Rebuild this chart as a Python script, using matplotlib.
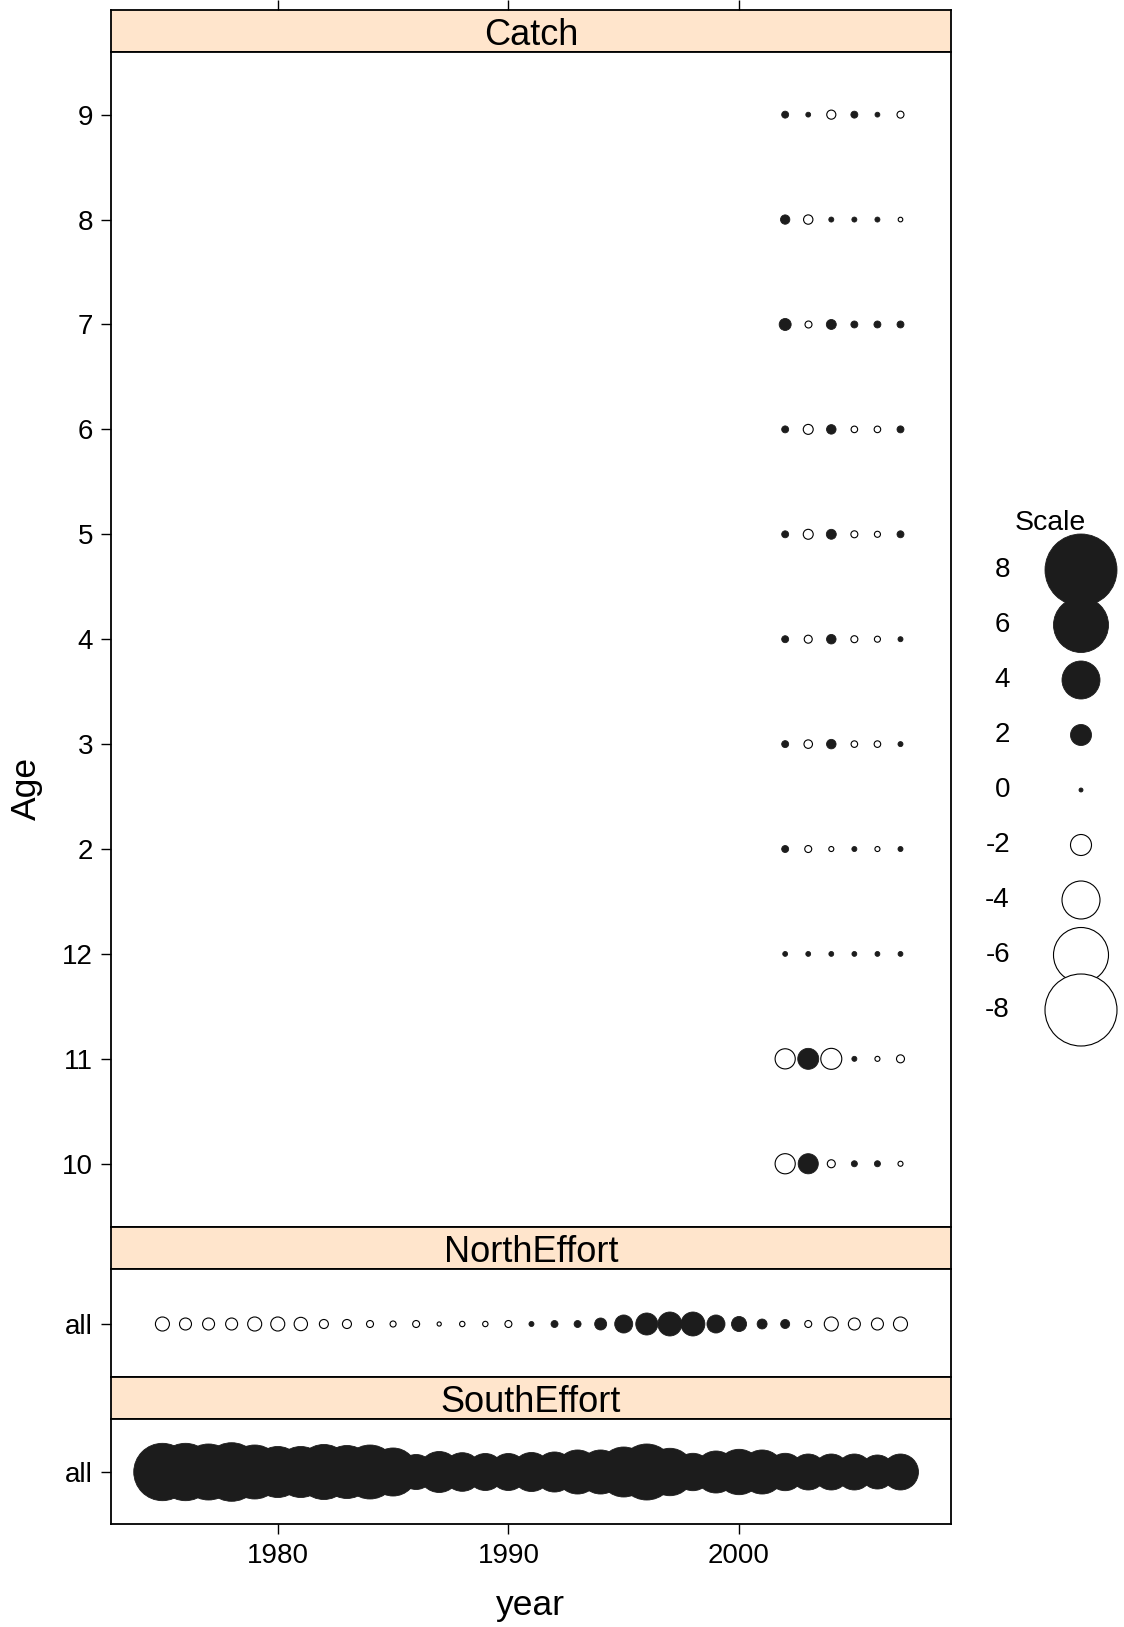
import numpy as np
import matplotlib
matplotlib.use("Agg")
import matplotlib.pyplot as plt

plt.rcParams['font.family'] = ['Liberation Sans', 'DejaVu Sans']

# DATA
catch_years = [2002, 2003, 2004, 2005, 2006, 2007]
catch_ages = ["10", "11", "12", "2", "3", "4", "5", "6", "7", "8", "9"]
age10 = [-1.9, 1.9, -0.47, 0.24, 0.24, -0.12]
age11 = [-1.9, 2.0, -2.0, 0.12, -0.12, -0.47]
age12 = [0.1, 0.1, 0.1, 0.1, 0.1, 0.1]
age2 = [0.35, -0.35, -0.12, 0.12, -0.12, 0.12]
age3 = [0.35, -0.53, 0.65, -0.3, -0.3, 0.12]
age4 = [0.35, -0.47, 0.65, -0.35, -0.24, 0.12]
age5 = [0.35, -0.7, 0.7, -0.35, -0.24, 0.35]
age6 = [0.35, -0.7, 0.65, -0.3, -0.3, 0.35]
age7 = [0.94, -0.35, 0.7, 0.35, 0.35, 0.35]
age8 = [0.63, -0.63, 0.12, 0.12, 0.12, -0.07]
age9 = [0.35, 0.1, -0.6, 0.35, 0.1, -0.35]
catch_resid = [age10, age11, age12, age2, age3, age4, age5, age6, age7, age8, age9]

effort_years = list(range(1975, 2008))
north_resid = [-1.18, -0.94, -0.94, -0.94, -1.18, -1.18, -1.1, -0.59, -0.59, -0.35,
               -0.24, -0.35, -0.02, -0.16, -0.16, -0.35, 0.12, 0.35, 0.35, 0.94,
               1.65, 2.12, 2.35, 2.35, 1.65, 1.3, 0.7, 0.59, -0.35, -1.18,
               -0.94, -0.94, -1.18]
south_resid = [6.28, 6.28, 6.12, 6.42, 5.88, 5.53, 5.53, 6.0, 5.76, 5.88,
               5.18, 3.65, 4.35, 4.07, 3.88, 3.88, 4.12, 4.24, 4.71, 4.71,
               5.41, 6.12, 5.11, 3.93, 4.47, 4.87, 4.71, 3.93, 3.76, 3.76,
               3.76, 3.53, 3.76]

scale_values = [8, 6, 4, 2, 0, -2, -4, -6, -8]

W, H, DPI = 1124, 1627, 100
fig = plt.figure(figsize=(W / DPI, H / DPI), dpi=DPI)
fill = "#1c1c1c"
strip_col = "#ffe5cc"
xlim = (1972.77, 2009.19)


def box(x0, y0, x1, y1):
    return [x0 / W, 1 - y1 / H, (x1 - x0) / W, (y1 - y0) / H]


def bubble_size(v):
    # radius in px grows linearly with |value|
    r = 2 + 4.25 * np.abs(np.asarray(v, dtype=float))
    return (2 * r * 72 / DPI) ** 2


def bubbles(ax, x, y, v):
    v = np.asarray(v, dtype=float)
    x = np.asarray(x, dtype=float)
    y = np.asarray(y, dtype=float)
    pos = v >= 0
    ax.scatter(x[pos], y[pos], s=bubble_size(v[pos]), c=fill, edgecolors=fill,
               linewidths=0.6, zorder=3)
    ax.scatter(x[~pos], y[~pos], s=bubble_size(v[~pos]), c="white", edgecolors="black",
               linewidths=0.8, zorder=3)


def strip(y0, y1, label, top_ticks=False):
    s = fig.add_axes(box(111, y0, 951, y1))
    s.set_facecolor(strip_col)
    s.set_xlim(*xlim)
    s.set_ylim(0, 1)
    s.set_yticks([])
    if top_ticks:
        s.xaxis.tick_top()
        s.set_xticks([1980, 1990, 2000])
        s.tick_params(axis="x", length=7, width=1, labeltop=False, labelbottom=False)
    else:
        s.set_xticks([])
    for sp in s.spines.values():
        sp.set_linewidth(1.3)
    s.text(0.5, 0.4, label, transform=s.transAxes, ha="center", va="center", fontsize=26)


def panel(y0, y1):
    ax = fig.add_axes(box(111, y0, 951, y1))
    ax.set_xlim(*xlim)
    for sp in ax.spines.values():
        sp.set_linewidth(1.3)
    ax.tick_params(axis="y", length=7, width=1, labelsize=20, pad=6)
    ax.tick_params(axis="x", length=7, width=1, labelsize=20, pad=7)
    return ax


# CATCH PANEL
strip(10, 51.7, "Catch", top_ticks=True)
ax1 = panel(51.7, 1226.7)
for i, row in enumerate(catch_resid):
    bubbles(ax1, catch_years, [i + 1] * len(row), row)
ax1.set_ylim(0.4, 11.6)
ax1.set_yticks(range(1, len(catch_ages) + 1))
ax1.set_yticklabels(catch_ages)
ax1.set_xticks([])

# NORTH EFFORT
strip(1226.7, 1269, "NorthEffort")
ax2 = panel(1269, 1376.7)
bubbles(ax2, effort_years, [1] * len(north_resid), north_resid)
ax2.set_ylim(0.473, 1.55)
ax2.set_yticks([1])
ax2.set_yticklabels(["all"])
ax2.set_xticks([])

# SOUTH EFFORT
strip(1376.7, 1419, "SouthEffort")
ax3 = panel(1419, 1524)
bubbles(ax3, effort_years, [1] * len(south_resid), south_resid)
ax3.set_ylim(0.48, 1.53)
ax3.set_yticks([1])
ax3.set_yticklabels(["all"])
ax3.set_xticks([1980, 1990, 2000])

# AXIS LABELS
fig.text(26 / W, 1 - 788 / H, "Age", rotation=90, ha="center", va="center", fontsize=25.5)
fig.text(530 / W, 1 - 1606 / H, "year", ha="center", va="center", fontsize=25.5)

# LEGEND
lg = fig.add_axes([0, 0, 1, 1], zorder=-1)
lg.set_xlim(0, W)
lg.set_ylim(H, 0)
lg.axis("off")
lg.patch.set_alpha(0)
lg.text(1050, 523, "Scale", ha="center", va="center", fontsize=20.5)
ly = 570 + 55 * np.arange(len(scale_values))
for yy, v in zip(ly, scale_values):
    lg.text(1010, yy, str(v), ha="right", va="center", fontsize=20)
bubbles(lg, [1081] * len(scale_values), ly, scale_values)

fig.savefig("out.png", dpi=DPI)
